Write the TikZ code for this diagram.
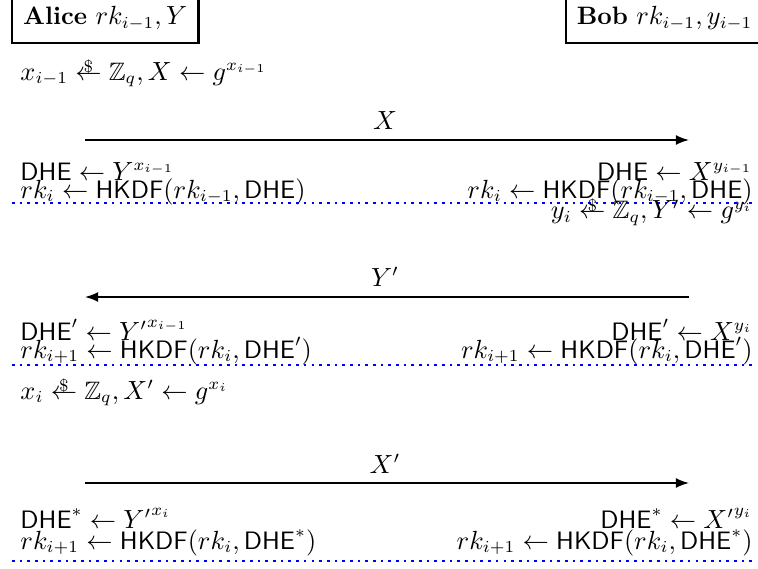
\documentclass[tikz,border=0pt]{standalone}
\usepackage{amsmath,amssymb}
\usetikzlibrary{arrows.meta}
\newcommand{\smp}{\mathrel{\ooalign{$\leftarrow$\cr\hidewidth\raisebox{3.3pt}{\scriptsize\$}\hidewidth\cr}}}
\begin{document}
\begin{tikzpicture}[x=0.41667pt, y=-0.41667pt,
  every node/.style={font=\fontsize{10.5}{12.6}\selectfont},
  party/.style={draw, line width=1pt, inner sep=0pt, minimum height=20pt, anchor=south west},
  lt/.style={anchor=base west, inner sep=0pt},
  rt/.style={anchor=base east, inner sep=0pt},
  lbl/.style={anchor=base, inner sep=0pt},
  msg/.style={line width=0.7pt, -{Latex[length=5.5pt,width=4.2pt]}},
  sepline/.style={blue, line width=1.1pt, dash pattern=on 1.1pt off 2.1pt}]
\useasboundingbox (0,0) rectangle (758,569);
% parties
\node[party, minimum width=77.9pt] (alice) at (10.5,44) {\textbf{Alice} $rk_{i-1}, Y$};
\node[party, minimum width=82pt] (bob) at (565,44) {\textbf{Bob} $rk_{i-1}, y_{i-1}$};
% block 1
\node[lt] (a1) at (20,80) {$x_{i-1} \smp \mathbb{Z}_q, X \leftarrow g^{x_{i-1}}$};
\coordinate (m1s) at (85,140);
\coordinate (m1e) at (689,140);
\draw[msg] (m1s) -- (m1e);
\node[lbl] (l1) at (385,129) {$X$};
\node[lt] (a2) at (20,180) {$\textsf{DHE} \leftarrow Y^{x_{i-1}}$};
\node[lt] (a3) at (20,198) {$rk_i \leftarrow \textsf{HKDF}(rk_{i-1}, \textsf{DHE})$};
\node[rt] (b2) at (753,180) {$\textsf{DHE} \leftarrow X^{y_{i-1}}$};
\node[rt] (b3) at (753,198) {$rk_i \leftarrow \textsf{HKDF}(rk_{i-1}, \textsf{DHE})$};
\coordinate (d1s) at (12,203);
\coordinate (d1e) at (756,203);
\draw[sepline] (d1s) -- (d1e);
\node[rt] (b4) at (753,219) {$y_i \smp \mathbb{Z}_q, Y' \leftarrow g^{y_i}$};
% block 2
\coordinate (m2s) at (689,297);
\coordinate (m2e) at (85,297);
\draw[msg] (m2s) -- (m2e);
\node[lbl] (l2) at (385,286) {$Y'$};
\node[lt] (a5) at (20,340) {$\textsf{DHE}' \leftarrow {Y'}^{x_{i-1}}$};
\node[lt] (a6) at (20,358) {$rk_{i+1} \leftarrow \textsf{HKDF}(rk_i, \textsf{DHE}')$};
\node[rt] (b5) at (753,340) {$\textsf{DHE}' \leftarrow X^{y_i}$};
\node[rt] (b6) at (753,358) {$rk_{i+1} \leftarrow \textsf{HKDF}(rk_i, \textsf{DHE}')$};
\coordinate (d2s) at (12,365);
\coordinate (d2e) at (756,365);
\draw[sepline] (d2s) -- (d2e);
\node[lt] (a7) at (20,399) {$x_i \smp \mathbb{Z}_q, X' \leftarrow g^{x_i}$};
% block 3
\coordinate (m3s) at (85,483);
\coordinate (m3e) at (689,483);
\draw[msg] (m3s) -- (m3e);
\node[lbl] (l3) at (385,473) {$X'$};
\node[lt] (a8) at (20,528) {$\textsf{DHE}^* \leftarrow {Y'}^{x_i}$};
\node[lt] (a9) at (20,549) {$rk_{i+1} \leftarrow \textsf{HKDF}(rk_i, \textsf{DHE}^*)$};
\node[rt] (b8) at (753,528) {$\textsf{DHE}^* \leftarrow {X'}^{y_i}$};
\node[rt] (b9) at (753,549) {$rk_{i+1} \leftarrow \textsf{HKDF}(rk_i, \textsf{DHE}^*)$};
\coordinate (d3s) at (12,561);
\coordinate (d3e) at (756,561);
\draw[sepline] (d3s) -- (d3e);
\end{tikzpicture}
\end{document}
